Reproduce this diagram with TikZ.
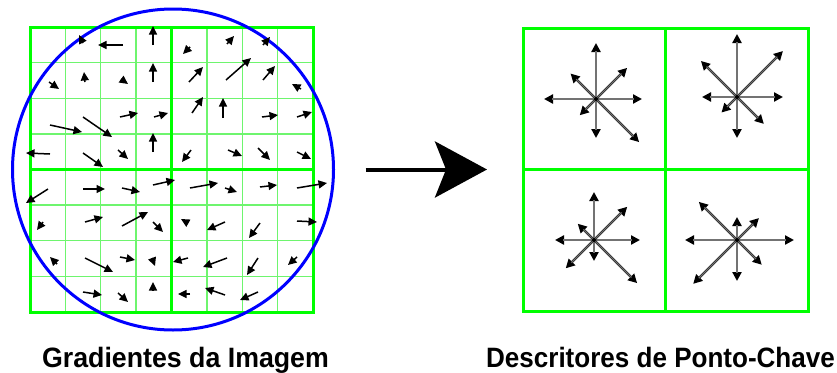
\documentclass[tikz,border=0pt]{standalone}
\usepackage{fontspec}
\setsansfont{Liberation Sans}
\usetikzlibrary{positioning,arrows.meta}
\definecolor{gridgreen}{RGB}{0,255,0}
\definecolor{cellgreen}{RGB}{110,245,110}
\definecolor{ringblue}{RGB}{0,0,255}

% one orientation histogram: centre, then bin lengths E NE N NW W SW S SE
\newcommand{\orihist}[9]{%
  \foreach \ang/\len in {0/#2,45/#3,90/#4,135/#5,180/#6,225/#7,270/#8,315/#9}
    \draw[binarrow] (#1) -- ++(\ang:\len pt);
  \fill (#1) circle (2pt);
}

\begin{document}
\begin{tikzpicture}[x=1pt, y=-1pt,
      cellline/.style={cellgreen, line width=1.4pt},                 % thin lines of the sample grid
      blockline/.style={gridgreen, line width=3pt},                  % block borders
      ring/.style={draw=ringblue, circle, line width=3pt, minimum size=321pt,
                   inner sep=0pt, outer sep=0pt},                    % gaussian window
      descbox/.style={draw=gridgreen, line width=3pt, minimum width=285pt,
                      minimum height=283pt, inner sep=0pt, outer sep=0pt},
      gradarrow/.style={line width=1.5pt, -{Triangle[length=8.5pt,width=8pt]}},
      binarrow/.style={line width=2.4pt, -{Triangle[length=9pt,width=9pt]},
                       postaction={draw=black!55, line width=1.1pt, -, shorten >=8pt}},
      bigarrow/.style={line width=4pt, -{Stealth[length=52pt,width=56pt,inset=11pt]}},
      caption/.style={font=\sffamily\bfseries\fontsize{28}{30}\selectfont, inner sep=0pt}]
    \useasboundingbox (0,0) rectangle (837,372);

    % sample grid, 8 x 8 cells in 2 x 2 blocks
    \foreach \i in {1,2,3,5,6,7} {
      \draw[cellline] (30+35.375*\i,27) -- (30+35.375*\i,312);
      \draw[cellline] (30,27+35.625*\i) -- (313,27+35.625*\i);
    }
    \draw[blockline] (30,27) rectangle (313,312);
    \draw[blockline] (171.5,27) -- (171.5,312);
    \draw[blockline] (30,169.5) -- (313,169.5);

    \node[ring] (grad) at (173,169.5) {};

    % image gradients, tail x/y / head x/y
    \foreach \ax/\ay/\bx/\by in {
        83/43/79/35, 123/45/98/45, 153/45/153/26, 190/47/183/54, 227/44/234/36, 263/45/270/37,
        49/82/59/89, 85/82/84/72, 121/79/128/84, 153/82/153/63, 189/82/203/67, 226/80/251/58,
        263/80/275/66, 301/89/292/84,
        50/125/82/132, 83/117/112/137, 120/117/138/113, 154/117/168/113, 192/113/203/97,
        223/118/223/98, 262/117/278/115, 297/117/312/112,
        50/154/26/153, 83/153/103/167, 118/150/128/159, 153/152/153/133, 191/150/182/162,
        228/150/242/156, 258/148/270/160, 297/152/311/159,
        48/189/26/203, 83/189/105/189, 122/188/140/192, 153/185/175/180, 190/188/218/183,
        225/188/237/192, 260/187/277/185, 297/188/327/183,
        43/222/37/230, 85/222/103/217, 122/226/148/212, 153/222/163/232, 188/223/181/219,
        225/222/207/230, 260/223/249/238, 297/221/317/222,
        57/264/50/257, 85/258/113/272, 120/257/135/260, 152/258/155/266, 188/258/173/262,
        227/258/203/267, 258/258/247/275, 297/257/288/265,
        83/292/102/295, 118/293/128/302, 153/290/153/282, 190/294/178/294, 225/295/205/288,
        258/292/240/300}
      \draw[gradarrow] (\ax,\ay) -- (\bx,\by);

    % keypoint descriptor, 2 x 2 histograms
    \node[descbox] (desc) at (665.5,169.5) {};
    \draw[blockline] (desc.north) -- (desc.south);
    \draw[blockline] (desc.west) -- (desc.east);
    \coordinate (histA) at (596,99);
    \coordinate (histB) at (737,97);
    \coordinate (histC) at (594,240);
    \coordinate (histD) at (737,240);
    \orihist{histA}{46}{44}{56}{36}{52}{23}{39}{61}
    \orihist{histB}{46}{65}{63}{51}{35}{22}{41}{38}
    \orihist{histC}{46}{47}{48}{23}{39}{40}{21}{61}
    \orihist{histD}{57}{31}{23}{54}{52}{62}{41}{35}

    \draw[bigarrow, shorten <=32pt, shorten >=36pt] (grad) -- (desc);

    \node[caption, anchor=base] (gradlbl) at (185.5,367) {\scalebox{0.955}[1]{Gradientes da Imagem}};
    \node[caption, anchor=base] (desclbl) at (660.5,367) {\scalebox{0.93}[1]{Descritores de Ponto-Chave}};
  \end{tikzpicture}
\end{document}
